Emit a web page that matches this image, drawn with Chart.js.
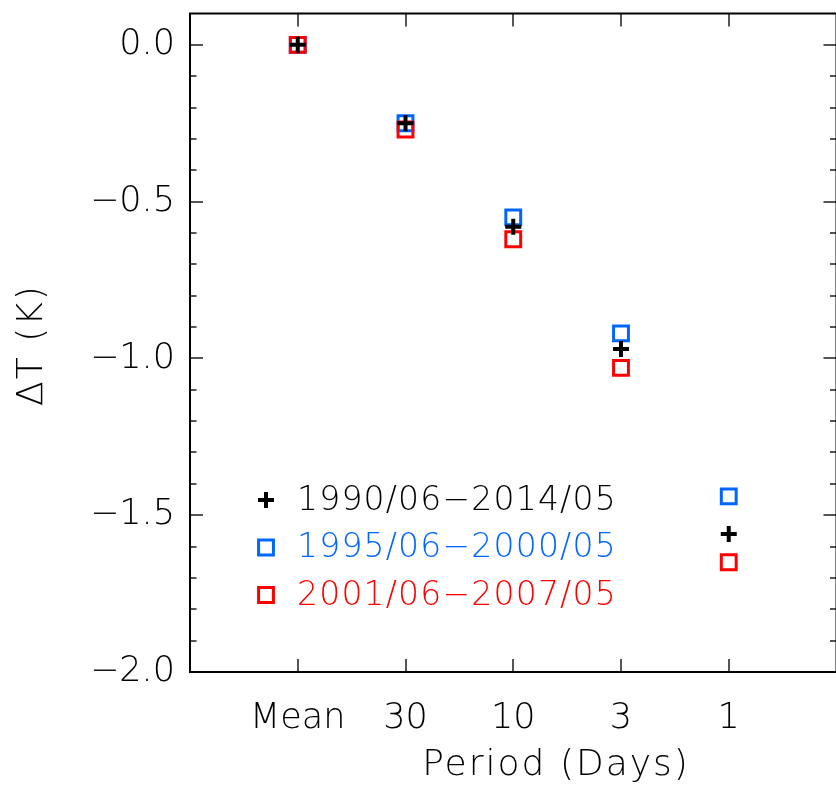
<!DOCTYPE html>
<html>
<head>
<meta charset="utf-8">
<script src="https://cdn.jsdelivr.net/npm/chart.js@4/dist/chart.umd.min.js"></script>
<style>
  html, body { margin: 0; padding: 0; background: #fff; overflow: hidden; }
  canvas { display: block; }
</style>
</head>
<body>
<canvas id="c" width="850" height="791"></canvas>
<script>
// Averaging periods along the x axis
const periods = ['Mean', '30', '10', '3', '1'];

// Temperature change for each averaging period (K)
const full9014 = [0.00, -0.25, -0.58, -0.97, -1.56];
const span9500 = [0.00, -0.25, -0.55, -0.92, -1.44];
const span0107 = [0.00, -0.27, -0.62, -1.03, -1.65];

const seriesLabels = ['1990/06\u22122014/05', '1995/06\u22122000/05', '2001/06\u22122007/05'];
const yMajorTicks = [-2.0, -1.5, -1.0, -0.5, 0.0];

const FONT = "'DejaVu Sans', sans-serif";
const WEIGHT = '200';
const BLUE = 'rgb(0,102,255)';
const RED = 'rgb(255,0,0)';

const toPoints = arr => arr.map((v, i) => ({ x: i + 1, y: v }));
const fmt = v => (v < 0 ? '\u2212' : '') + Math.abs(v).toFixed(1);

// Frame with inward-pointing ticks on all four sides
const framePlugin = {
  id: 'frame',
  beforeDatasetsDraw(chart) {
    const { ctx, chartArea: a, scales: { x, y } } = chart;
    ctx.save();
    ctx.strokeStyle = '#555';
    ctx.lineWidth = 2;
    ctx.beginPath();
    for (let i = 0; i <= 20; i++) {
      const py = Math.round(y.getPixelForValue(-2 + i * 0.1));
      const len = i % 5 === 0 ? 13 : 6.5;
      ctx.moveTo(a.left, py); ctx.lineTo(a.left + len, py);
      ctx.moveTo(a.right, py); ctx.lineTo(a.right - len, py);
    }
    periods.forEach((_, i) => {
      const px = Math.round(x.getPixelForValue(i + 1));
      ctx.moveTo(px, a.bottom); ctx.lineTo(px, a.bottom - 13);
      ctx.moveTo(px, a.top); ctx.lineTo(px, a.top + 13);
    });
    ctx.stroke();
    ctx.strokeStyle = '#000';
    ctx.lineWidth = 2;
    ctx.strokeRect(a.left, a.top, a.right - a.left, a.bottom - a.top);
    ctx.restore();
  }
};

// Axis titles
const titlePlugin = {
  id: 'titles',
  afterDraw(chart) {
    const { ctx } = chart;
    ctx.save();
    ctx.fillStyle = '#000';
    ctx.font = WEIGHT + ' 36px ' + FONT;
    ctx.letterSpacing = '2px';
    ctx.textAlign = 'center';
    ctx.textBaseline = 'middle';
    ctx.fillText('Period (Days)', 556, 766);
    ctx.translate(33, 345);
    ctx.rotate(-Math.PI / 2);
    ctx.fillText('\u0394T (K)', 0, 0);
    ctx.restore();
  }
};

// Legend inside the plot area
const legendPlugin = {
  id: 'innerLegend',
  afterDraw(chart) {
    const { ctx } = chart;
    ctx.save();
    chart.data.datasets.forEach((ds, i) => {
      const px = 266, py = 500 + i * 47.5;
      ctx.strokeStyle = ds.borderColor;
      ctx.fillStyle = 'rgba(0,0,0,0)';
      ctx.lineWidth = ds.borderWidth;
      Chart.helpers.drawPoint(ctx, {
        pointStyle: ds.pointStyle, radius: ds.pointRadius,
        borderWidth: ds.borderWidth, rotation: 0
      }, px, py);
      ctx.fillStyle = ds.borderColor;
      ctx.font = WEIGHT + ' 33px ' + FONT;
      ctx.letterSpacing = '1.2px';
      ctx.textAlign = 'left';
      ctx.textBaseline = 'middle';
      ctx.fillText(ds.label, 297, py + 1);
    });
    ctx.restore();
  }
};

new Chart(document.getElementById('c'), {
  type: 'scatter',
  data: {
    datasets: [
      { label: seriesLabels[0], data: toPoints(full9014), pointStyle: 'cross',
        pointRadius: 8, borderWidth: 4, borderColor: '#000', backgroundColor: '#000', order: 0 },
      { label: seriesLabels[1], data: toPoints(span9500), pointStyle: 'rect',
        pointRadius: 10.5, borderWidth: 3, borderColor: BLUE, backgroundColor: 'rgba(0,0,0,0)', order: 2 },
      { label: seriesLabels[2], data: toPoints(span0107), pointStyle: 'rect',
        pointRadius: 10.5, borderWidth: 3, borderColor: RED, backgroundColor: 'rgba(0,0,0,0)', order: 1 }
    ]
  },
  options: {
    responsive: false,
    animation: false,
    events: [],
    layout: { padding: { top: 12, right: 10, left: 0, bottom: 0 } },
    plugins: { legend: { display: false }, tooltip: { enabled: false } },
    scales: {
      x: {
        type: 'linear', min: 0, max: 6,
        afterBuildTicks: s => { s.ticks = periods.map((_, i) => ({ value: i + 1 })); },
        afterFit: s => { s.height = 119; s.paddingLeft = 0; s.paddingRight = 0; },
        grid: { display: false, drawTicks: false },
        border: { display: false },
        ticks: {
          autoSkip: false, maxRotation: 0, padding: 26, color: '#000',
          font: { family: FONT, size: 35, weight: WEIGHT },
          callback: v => periods[Math.round(v) - 1] ?? ''
        }
      },
      y: {
        type: 'linear', min: -2.0, max: 0.1,
        afterBuildTicks: s => { s.ticks = yMajorTicks.map(v => ({ value: v })); },
        afterFit: s => { s.width = 190; s.paddingTop = 0; s.paddingBottom = 0; },
        grid: { display: false, drawTicks: false },
        border: { display: false },
        ticks: {
          padding: 15, color: '#000',
          font: { family: FONT, size: 35, weight: WEIGHT },
          callback: v => fmt(v)
        }
      }
    }
  },
  plugins: [framePlugin, titlePlugin, legendPlugin]
});
</script>
</body>
</html>
